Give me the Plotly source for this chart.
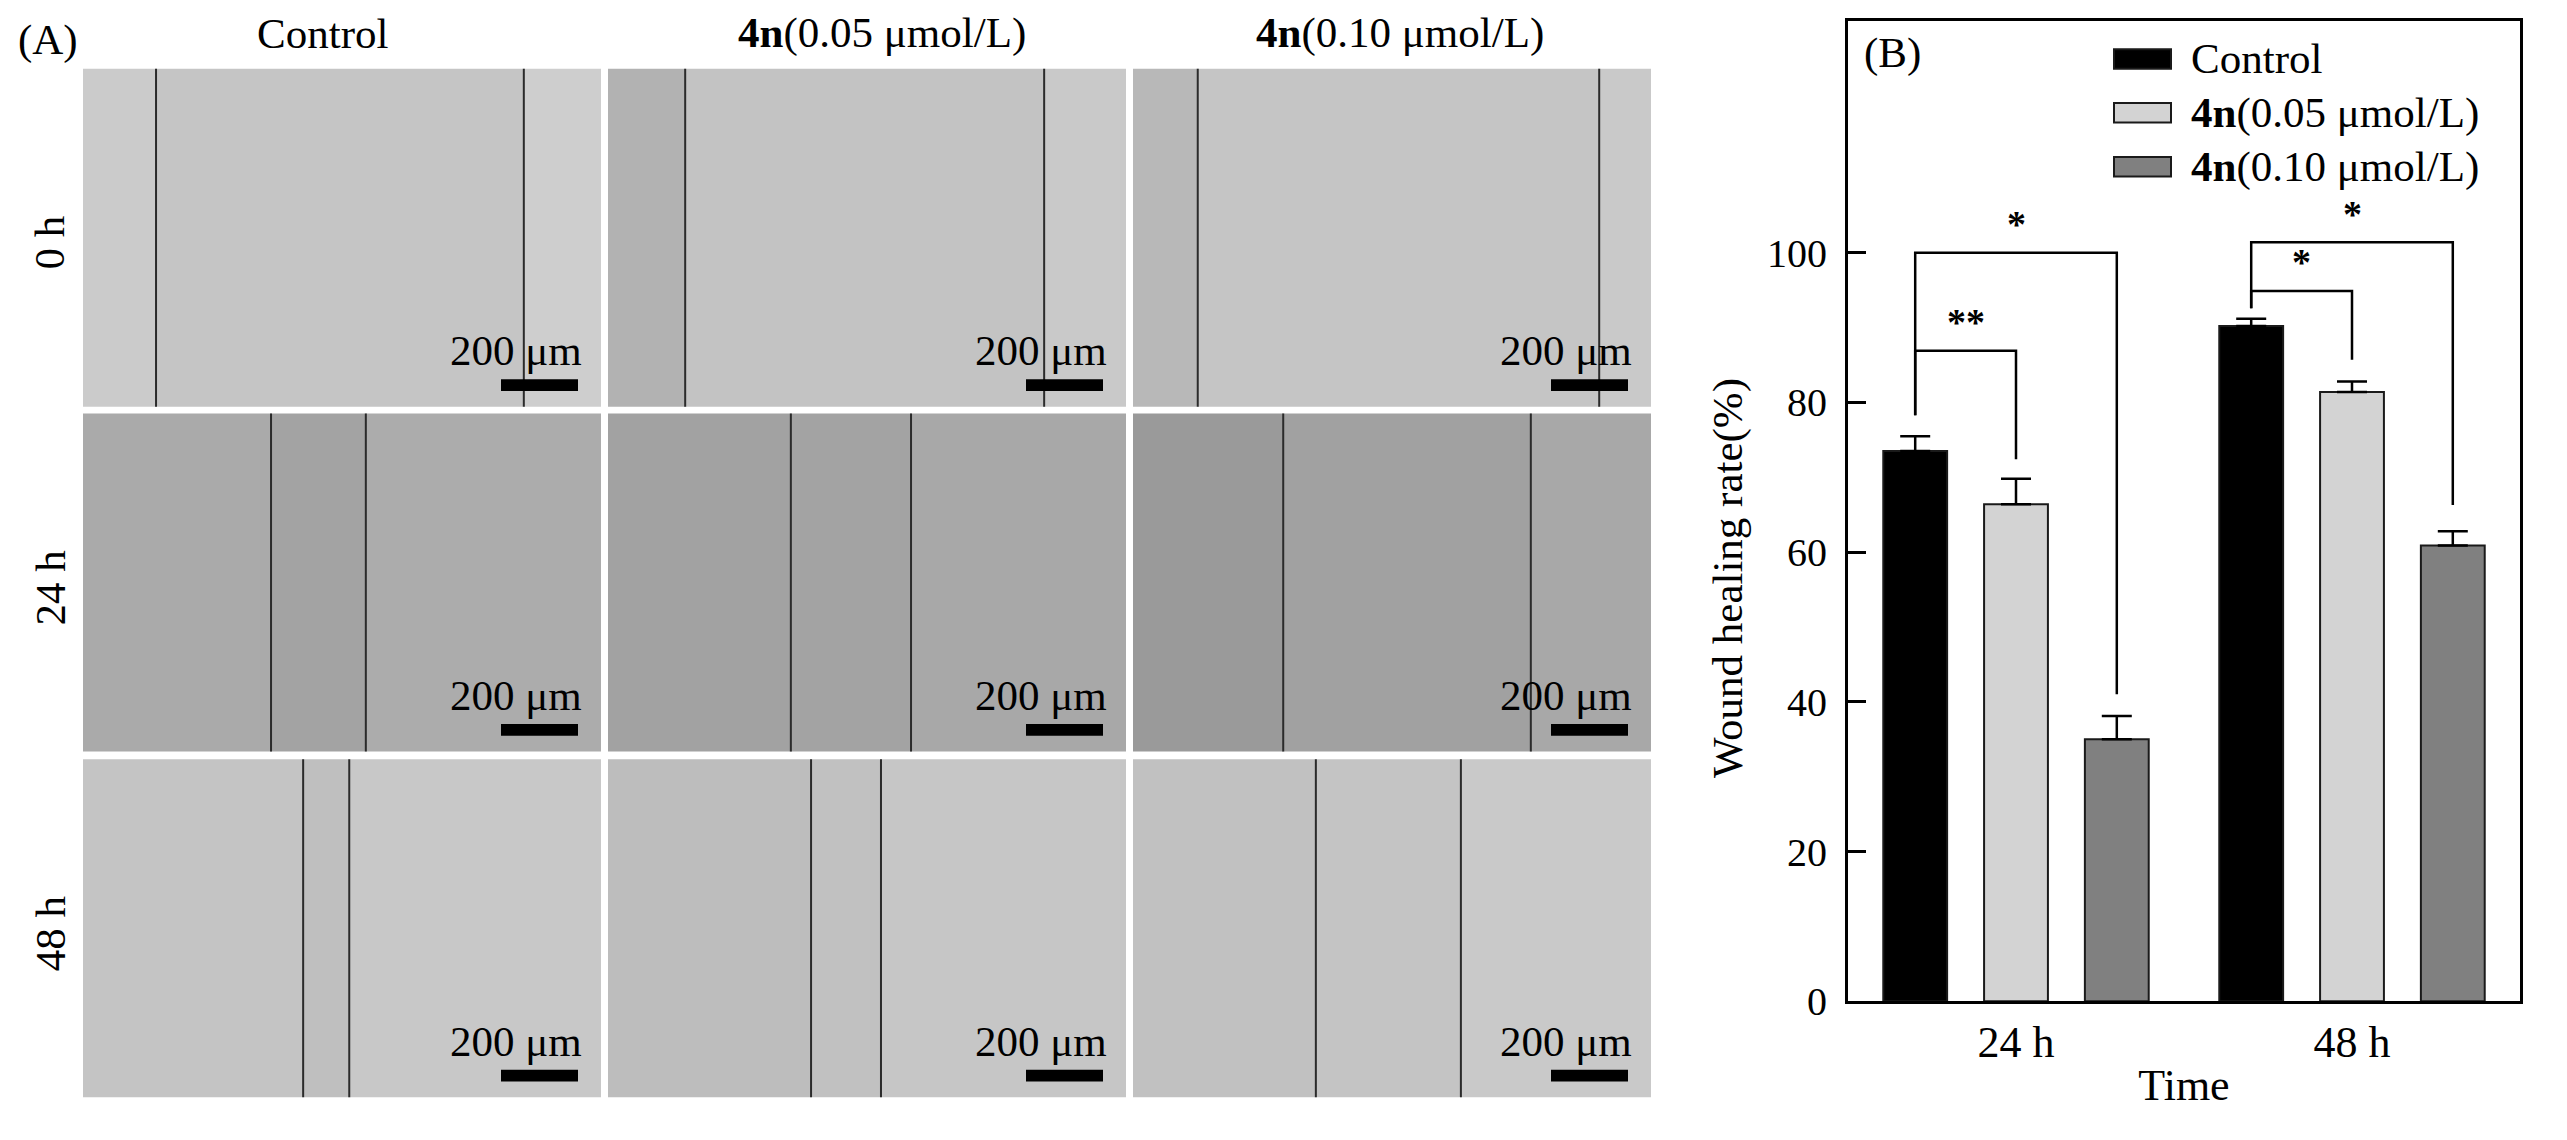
# %% ---- wound healing figure ------------------------
# Requirements and constants
import plotly.graph_objects as go

W, H = 2567, 1140
PAD = 8  # default page margin of the html body
FONT = "Times New Roman, Liberation Serif, serif"


# %% ---- data ------------------------
# (B) wound healing rate, mean and upper error
groups = ["24 h", "48 h"]
series = ["Control", "<b>4n</b>(0.05 μmol/L)", "<b>4n</b>(0.10 μmol/L)"]
control = [73.5, 90.2]
control_err = [2.0, 1.0]
low_dose = [66.4, 81.4]
low_dose_err = [3.4, 1.4]
high_dose = [35.0, 60.9]
high_dose_err = [3.1, 1.9]
y_ticks = [0, 20, 40, 60, 80, 100]

# significance brackets: group, bar a, bar b, top, foot a, foot b, mark, mark height
brackets = [
    (0, 0, 2, 100.0, 78.3, 41.0, "*", 103.9),
    (0, 0, 1, 86.9, 78.3, 72.4, "**", 90.8),
    (1, 0, 2, 101.4, 92.6, 66.3, "*", 105.2),
    (1, 0, 1, 94.9, 92.6, 85.7, "*", 98.7),
]

# (A) scratch images: wound edges as a fraction of the field width
times = ["0 h", "24 h", "48 h"]
edges_0h = [[0.141, 0.851], [0.149, 0.842], [0.125, 0.900]]
edges_24h = [[0.363, 0.546], [0.353, 0.585], [0.290, 0.768]]
edges_48h = [[0.425, 0.514], [0.392, 0.527], [0.353, 0.633]]
scale_text = "200 μm"


# %% ---- helpers and styles ------------------------
FW, FH = W - 2 * PAD, H - 2 * PAD


def fx(x):
    return (x - PAD) / FW


def fy(y):
    return 1 - (y - PAD) / FH


def grey(v):
    return f"rgb({v},{v},{v})"


# grey tone of (left cells, gap, right cells) per field
tones = [
    [[203, 197, 206], [178, 195, 201], [184, 197, 201]],
    [[170, 163, 172], [162, 163, 168], [154, 161, 168]],
    [[196, 191, 200], [189, 193, 198], [193, 196, 201]],
]
col_x0 = [83, 608, 1133]
row_y0 = [70, 422, 775]
pw, ph = 518, 345
header_x = [322, 882, 1400]

fills = ["#000000", "#d3d3d3", "#808080"]
offsets = [-0.3, 0.0, 0.3]

fig = go.Figure()
shapes = []
notes = []

# %% ---- panel A ------------------------
edges = [edges_0h, edges_24h, edges_48h]
for r in range(3):
    y0, y1 = row_y0[r], row_y0[r] + ph
    for c in range(3):
        x0 = col_x0[c]
        e0 = x0 + edges[r][c][0] * pw
        e1 = x0 + edges[r][c][1] * pw
        t = tones[r][c]
        for a, b, v in [(x0, e0, t[0]), (e0, e1, t[1]), (e1, x0 + pw, t[2])]:
            shapes.append(dict(type="rect", xref="paper", yref="paper",
                               x0=fx(a), x1=fx(b), y0=fy(y1), y1=fy(y0),
                               fillcolor=grey(v), line=dict(width=0)))
        for e in (e0, e1):
            shapes.append(dict(type="line", xref="paper", yref="paper",
                               x0=fx(e), x1=fx(e), y0=fy(y1), y1=fy(y0),
                               line=dict(color="#2b2b2b", width=2)))
        # scale bar
        shapes.append(dict(type="rect", xref="paper", yref="paper",
                           x0=fx(x0 + pw - 100), x1=fx(x0 + pw - 23),
                           y0=fy(y1 - 16), y1=fy(y1 - 28),
                           fillcolor="black", line=dict(width=0)))
        notes.append(dict(x=fx(x0 + pw - 17), y=fy(y1 - 57), text=scale_text,
                          xanchor="right", yanchor="middle"))
    notes.append(dict(x=fx(50), y=fy(y0 + ph / 2 + 5), text=times[r],
                      textangle=-90, xanchor="center", yanchor="middle"))

for c in range(3):
    notes.append(dict(x=fx(header_x[c]), y=fy(34), text=series[c],
                      xanchor="center", yanchor="middle"))
notes.append(dict(x=fx(16), y=fy(41), text="(A)", xanchor="left", yanchor="middle"))

# %% ---- panel B ------------------------
values = [(control, control_err), (low_dose, low_dose_err), (high_dose, high_dose_err)]
for k, (vals, errs) in enumerate(values):
    fig.add_trace(go.Bar(
        x=[i + offsets[k] for i in range(len(groups))], y=vals, width=0.19,
        name=series[k], showlegend=False,
        marker=dict(color=fills[k], line=dict(color="#1a1a1a", width=2)),
        error_y=dict(type="data", array=errs, arrayminus=[0] * len(errs),
                     symmetric=False, color="black", thickness=2.5, width=15),
    ))

for g, a, b, top, fa, fb, mark, my in brackets:
    xa, xb = g + offsets[a], g + offsets[b]
    fig.add_trace(go.Scatter(x=[xa, xa, xb, xb], y=[fa, top, top, fb], mode="lines",
                             line=dict(color="black", width=2.5), showlegend=False,
                             hoverinfo="skip"))
    notes.append(dict(x=(xa + xb) / 2, y=my, xref="x", yref="y", text=f"<b>{mark}</b>",
                      xanchor="center", yanchor="middle",
                      font=dict(family=FONT, size=38, color="black")))

# legend drawn inside the frame
leg_y = [60, 115, 170]
for k in range(3):
    shapes.append(dict(type="rect", xref="paper", yref="paper",
                       x0=fx(2114), x1=fx(2171), y0=fy(leg_y[k] + 10), y1=fy(leg_y[k] - 10),
                       fillcolor=fills[k], line=dict(color="#1a1a1a", width=2)))
    notes.append(dict(x=fx(2189), y=fy(leg_y[k]), text=series[k],
                      xanchor="left", yanchor="middle"))

notes.append(dict(x=fx(1862), y=fy(54), text="(B)", xanchor="left", yanchor="middle"))
notes.append(dict(x=fx(1728), y=fy(590), text="Wound healing rate(%)", textangle=-90,
                  xanchor="center", yanchor="middle"))

for n in notes:
    n.setdefault("xref", "paper")
    n.setdefault("yref", "paper")
    n.setdefault("showarrow", False)
    n.setdefault("font", dict(family=FONT, size=43, color="black"))

axis_line = dict(showline=True, linecolor="black", linewidth=3, mirror=True,
                 showgrid=False, zeroline=False)
fig.update_layout(
    width=FW, height=FH, autosize=False,
    margin=dict(l=0, r=0, t=0, b=0),
    paper_bgcolor="white", plot_bgcolor="white",
    barmode="overlay", showlegend=False,
    font=dict(family=FONT, color="black"),
    xaxis=dict(domain=[fx(1848), fx(2520)], range=[-0.5, 1.5],
               tickvals=list(range(len(groups))), ticktext=groups, ticks="",
               tickfont=dict(size=44), ticklabelstandoff=0,
               title=dict(text="Time", font=dict(size=44), standoff=4), **axis_line),
    yaxis=dict(domain=[fy(1022), fy(21)], range=[0, 131], tickvals=y_ticks,
               ticks="inside", ticklen=18, tickwidth=3, tickcolor="black",
               tickfont=dict(size=40), ticklabelstandoff=10, **axis_line),
    shapes=shapes,
    annotations=notes,
)

fig.write_html("out.html")
